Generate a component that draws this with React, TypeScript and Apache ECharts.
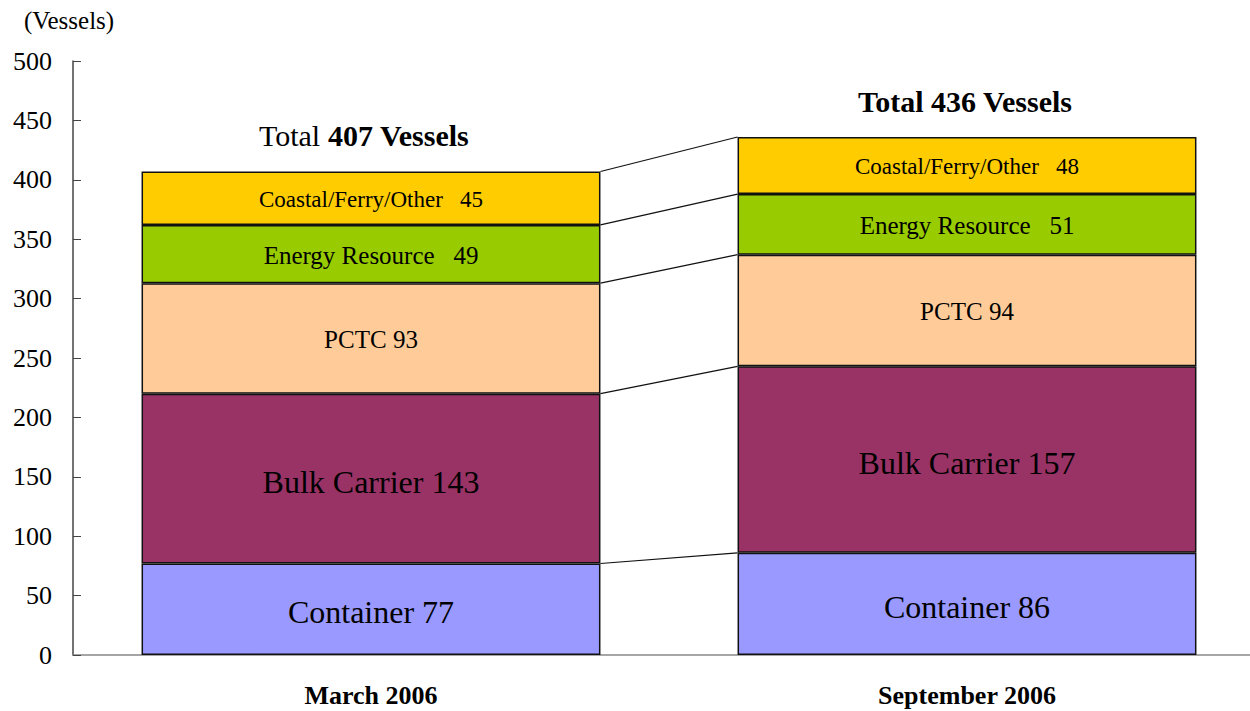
import React, { useEffect, useRef } from "react";
import * as echarts from "echarts";

const categories = ["March 2006", "September 2006"];
const seriesNames = ["Container", "Bulk Carrier", "PCTC", "Energy Resource", "Coastal/Ferry/Other"];
const container = [77, 86];
const bulkCarrier = [143, 157];
const pctc = [93, 94];
const energyResource = [49, 51];
const coastal = [45, 48];
const totals = [407, 436];
const yTicks = { min: 0, max: 500, interval: 50 };

const colors = ["#9999FF", "#993366", "#FFCC99", "#99CC00", "#FFCC00"];
const labelSizes = [32, 32, 25, 25, 23];
const labelOffsets = [3, 3, 1, 1, 1];
const separators = [" ", " ", " ", "   ", "   "];
const BAR_FRAC = 0.77;
const FONT = "'Liberation Serif', 'Times New Roman', serif";

export default function App() {
  const ref = useRef<HTMLDivElement>(null);
  useEffect(() => {
    if (!ref.current) return;
    const chart = echarts.init(ref.current, null, { renderer: "svg" });
    const values = [container, bulkCarrier, pctc, energyResource, coastal];
    const cumulative: number[][] = [];
    let acc = [0, 0];
    values.forEach((v) => {
      acc = [acc[0] + v[0], acc[1] + v[1]];
      cumulative.push([acc[0], acc[1]]);
    });

    const barSeries = values.map((v, i) => ({
      name: seriesNames[i],
      type: "bar",
      stack: "total",
      barWidth: BAR_FRAC * 100 + "%",
      data: v,
      itemStyle: { color: colors[i], borderColor: "#111", borderWidth: 1.5 },
      label: {
        show: true,
        position: "inside",
        offset: [0, labelOffsets[i]],
        color: "#000",
        fontFamily: FONT,
        fontSize: labelSizes[i],
        formatter: (p: any) => `${seriesNames[i]}${separators[i]}${p.value}`,
      },
      z: 3,
    }));

    const connectorSeries = {
      type: "custom",
      data: cumulative.map((c) => [c[0], c[1]]),
      z: 2,
      silent: true,
      renderItem: (params: any, api: any) => {
        const band = api.size([1, 0])[0];
        const half = (band * BAR_FRAC) / 2;
        const p0 = api.coord([0, api.value(0)]);
        const p1 = api.coord([1, api.value(1)]);
        return {
          type: "line",
          shape: { x1: p0[0] + half, y1: p0[1], x2: p1[0] - half, y2: p1[1] },
          style: { stroke: "#111", lineWidth: 1.2 },
        };
      },
    };

    const totalSeries = {
      type: "custom",
      data: totals.map((t, i) => [i, t]),
      z: 4,
      silent: true,
      renderItem: (params: any, api: any) => {
        const idx = params.dataIndex;
        const p = api.coord([api.value(0), api.value(1)]);
        const t = api.value(1);
        const text = idx === 0 ? `{r|Total }{b|${t} Vessels}` : `{b|Total ${t} Vessels}`;
        return {
          type: "text",
          x: p[0] + (idx === 0 ? -7 : -2),
          y: p[1] - 36,
          style: {
            text,
            align: "center",
            verticalAlign: "middle",
            fill: "#000",
            rich: {
              r: { fontFamily: FONT, fontSize: 30, fontWeight: "normal", fill: "#000" },
              b: { fontFamily: FONT, fontSize: 30, fontWeight: "bold", fill: "#000" },
            },
          },
        };
      },
    };

    chart.setOption({
      animation: false,
      textStyle: { fontFamily: FONT },
      grid: { left: 73, top: 61, width: 1192, height: 594, containLabel: false },
      xAxis: {
        type: "category",
        data: categories,
        axisLine: { lineStyle: { color: "#888", width: 1.5 } },
        axisTick: { inside: true, length: 8, lineStyle: { color: "#333" } },
        axisLabel: {
          color: "#000",
          fontFamily: FONT,
          fontSize: 26,
          fontWeight: "bold",
          margin: 27,
        },
      },
      yAxis: {
        type: "value",
        min: yTicks.min,
        max: yTicks.max,
        interval: yTicks.interval,
        name: "(Vessels)",
        nameLocation: "end",
        nameGap: 28,
        nameTextStyle: { color: "#000", fontFamily: FONT, fontSize: 25, padding: [0, 8, 0, 0] },
        axisLine: { show: true, lineStyle: { color: "#444", width: 1.5 } },
        axisTick: { show: true, inside: true, length: 8, lineStyle: { color: "#444" } },
        axisLabel: { color: "#000", fontFamily: FONT, fontSize: 26, margin: 21 },
        splitLine: { show: false },
      },
      series: [...barSeries, connectorSeries, totalSeries],
    });
    return () => chart.dispose();
  }, []);
  return (
    <div style={{ position: "fixed", left: 0, top: 0, width: 1250, height: 711, overflow: "hidden", background: "#fff" }}>
      <div ref={ref} style={{ position: "absolute", left: 0, top: 0, width: 1280, height: 711 }} />
    </div>
  );
}
